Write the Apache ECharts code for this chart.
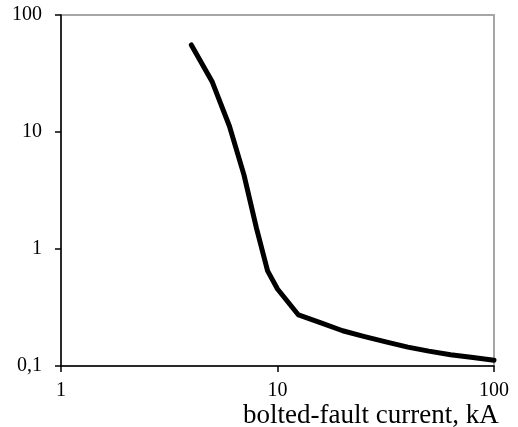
<!DOCTYPE html>
<html>
<head>
<meta charset="utf-8">
<script src="https://cdn.jsdelivr.net/npm/echarts@6/dist/echarts.min.js"></script>
<style>
html,body{margin:0;padding:0;background:#fff;}
#chart{width:518px;height:427px;}
</style>
</head>
<body>
<div id="chart"></div>
<script>
// Data
var currentKA = [4, 5, 6, 7, 8, 9, 10, 12.5, 16, 20, 25, 32, 40, 50, 63, 80, 100];
var timeValues = [55.5, 26.7, 11.2, 4.3, 1.5, 0.65, 0.455, 0.273, 0.233, 0.20, 0.179, 0.160, 0.145, 0.134, 0.125, 0.118, 0.112];
var xTickLabels = ['1', '10', '100'];
var yTickLabels = ['0,1', '1', '10', '100'];
var xAxisTitle = 'bolted-fault current, kA';

var seriesData = currentKA.map(function (x, i) { return [x, timeValues[i]]; });
var fontFam = '"Liberation Serif", "Times New Roman", serif';

var chart = echarts.init(document.getElementById('chart'), null, {renderer: 'canvas'});
chart.setOption({
  animation: false,
  backgroundColor: '#ffffff',
  grid: {
    left: 61, right: 24, top: 15, bottom: 61,
    show: true, borderColor: '#a6a6a6', borderWidth: 2, backgroundColor: 'transparent'
  },
  title: {
    text: xAxisTitle,
    left: 243, top: 402,
    padding: 0,
    textStyle: {fontFamily: fontFam, fontSize: 27, fontWeight: 'normal', color: '#000'}
  },
  xAxis: {
    type: 'log', logBase: 10, min: 1, max: 100,
    axisLine: {show: true, lineStyle: {color: '#000', width: 1.5}},
    axisTick: {show: true, length: 6, lineStyle: {color: '#000', width: 1.5}},
    minorTick: {show: false},
    splitLine: {show: false},
    axisLabel: {
      fontFamily: fontFam, fontSize: 20, color: '#000', margin: 15,
      formatter: function (v) { return xTickLabels[Math.round(Math.log10(v))]; }
    }
  },
  yAxis: {
    type: 'log', logBase: 10, min: 0.1, max: 100,
    axisLine: {show: true, lineStyle: {color: '#000', width: 1.5}},
    axisTick: {show: true, length: 6, lineStyle: {color: '#000', width: 1.5}},
    splitLine: {show: false},
    axisLabel: {
      fontFamily: fontFam, fontSize: 20, color: '#000', margin: 19,
      formatter: function (v) { return yTickLabels[Math.round(Math.log10(v)) + 1]; }
    }
  },
  series: [{
    type: 'line',
    data: seriesData,
    showSymbol: false,
    smooth: false,
    lineStyle: {color: '#000', width: 5, cap: 'round', join: 'round'}
  }]
});
</script>
</body>
</html>
